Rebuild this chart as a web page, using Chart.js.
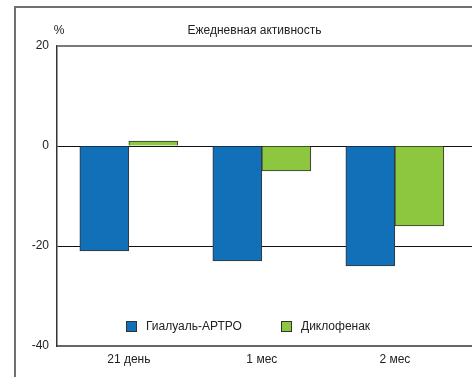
<!DOCTYPE html>
<html>
<head>
<meta charset="utf-8">
<script src="https://cdn.jsdelivr.net/npm/chart.js@4"></script>
<style>
  html, body { margin: 0; padding: 0; background: #fff; }
  #wrap { width: 472px; height: 377px; position: relative; }
</style>
</head>
<body>
<div id="wrap"><canvas id="activityChart"></canvas></div>
<script>
// Данные графика
const categories = ['21 день', '1 мес', '2 мес'];
const seriesNames = ['Гиалуаль-АРТРО', 'Диклофенак'];
const hyaluronValues = [-21, -23, -24];
const diclofenacValues = [1, -5, -16];
const yTicks = [-40, -20, 0, 20];
const chartTitle = 'Ежедневная активность';
const unitLabel = '%';

const fontFamily = '"Liberation Sans", Arial, sans-serif';
const blue = '#1170b8';
const green = '#8dc63f';

// Рамка, заголовок и легенда внутри области графика
const decorPlugin = {
    id: 'decor',
    beforeDraw(chart) {
        const c = chart.ctx;
        c.save();
        c.strokeStyle = '#707070';
        c.lineWidth = 2;
        c.beginPath();
        c.moveTo(15, chart.height);
        c.lineTo(15, 7);
        c.lineTo(chart.width, 7);
        c.stroke();
        c.restore();
    },
    afterDraw(chart) {
        const c = chart.ctx;
        const area = chart.chartArea;
        c.save();
        c.fillStyle = '#222';
        c.font = '12px ' + fontFamily;
        c.textBaseline = 'middle';
        c.textAlign = 'center';
        c.fillText(unitLabel, area.left + 2, 31);
        c.fillText(chartTitle, 254.5, 31);

        // легенда
        const y = area.bottom - 19.5;
        const xs = [area.left + 69, area.left + 224];
        c.textAlign = 'left';
        chart.data.datasets.forEach((ds, i) => {
            c.fillStyle = ds.backgroundColor;
            c.fillRect(xs[i], y - 5.5, 11, 11);
            c.strokeStyle = '#333';
            c.lineWidth = 1;
            c.strokeRect(xs[i] + 0.5, y - 5, 10, 10);
            c.fillStyle = '#222';
            c.fillText(ds.label, xs[i] + 20, y + 0.5);
        });
        c.restore();
    }
};

const ctx = document.getElementById('activityChart').getContext('2d');
const activityChart = new Chart(ctx, {
    type: 'bar',
    data: {
        datasets: [{
            label: seriesNames[0],
            data: hyaluronValues.map((v, i) => ({ x: i, y: v })),
            backgroundColor: blue,
            borderColor: '#333',
            borderWidth: 1,
            barThickness: 49
        }, {
            label: seriesNames[1],
            data: diclofenacValues.map((v, i) => ({ x: i, y: v })),
            backgroundColor: green,
            borderColor: '#333',
            borderWidth: 1,
            barThickness: 49
        }]
    },
    options: {
        responsive: true,
        maintainAspectRatio: false,
        animation: false,
        layout: {
            padding: { top: 46, left: 0, right: 0, bottom: 0 }
        },
        plugins: {
            legend: { display: false },
            title: { display: false },
            tooltip: { enabled: false }
        },
        scales: {
            x: {
                type: 'linear',
                min: -0.54,
                max: 2.58,
                offset: false,
                afterBuildTicks: s => { s.ticks = categories.map((c, i) => ({ value: i })); },
                afterFit: s => { s.height = 31; },
                grid: { display: false, offset: false, drawTicks: false },
                border: { color: '#666', width: 2 },
                ticks: {
                    callback: v => categories[v],
                    color: '#222',
                    padding: 6,
                    maxRotation: 0,
                    autoSkip: false,
                    font: { family: fontFamily, size: 12 }
                }
            },
            y: {
                min: yTicks[0],
                max: yTicks[yTicks.length - 1],
                afterBuildTicks: s => { s.ticks = yTicks.map(v => ({ value: v })); },
                afterFit: s => { s.width = 57; },
                grid: {
                    drawTicks: false,
                    color: c => {
                        if (!c.tick) return '#111';
                        if (c.tick.value === 20) return '#7a7a7a';
                        if (c.tick.value === -40) return 'rgba(0,0,0,0)';
                        return '#111';
                    },
                    lineWidth: c => (c.tick && c.tick.value === 20 ? 2 : 1)
                },
                border: { color: '#333', width: 1.5 },
                ticks: {
                    color: '#222',
                    padding: 8,
                    font: { family: fontFamily, size: 12 }
                }
            }
        }
    },
    plugins: [decorPlugin]
});
</script>
</body>
</html>
